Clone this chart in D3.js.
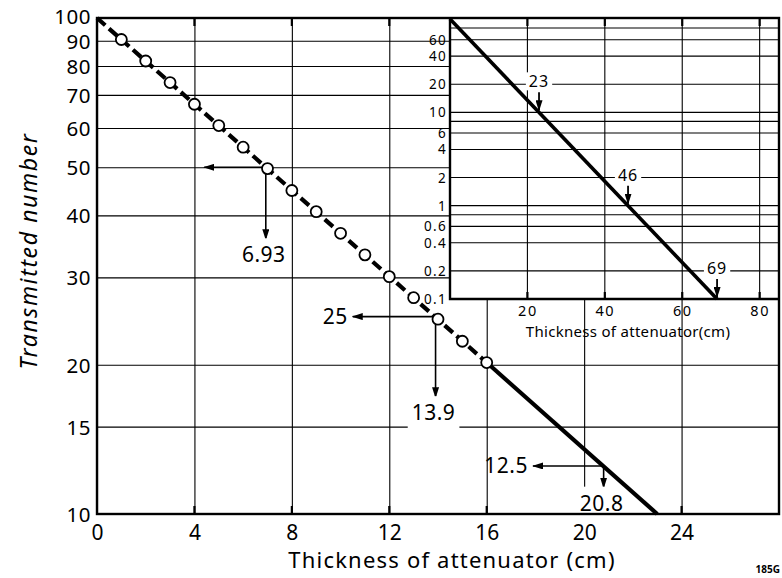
<!DOCTYPE html>
<html><head><meta charset="utf-8">
<script src="https://cdn.jsdelivr.net/npm/d3@7"></script>
<style>
body{margin:0;background:#fff}
text{font-family:"Noto Sans",sans-serif;fill:#000}
</style>
</head><body>
<svg id="c" width="782" height="578"></svg>
<script>
// ---- data ----
const measuredX = [1,2,3,4,5,6,7,8,9,10,11,12,13,14,15,16];
const measuredN = [90.5,81.9,74.1,67.0,60.7,54.9,49.7,44.9,40.7,36.8,33.3,30.1,27.3,24.7,22.3,20.2];
const fitDashedX = [0,16];
const fitDashedN = [100,20.2];
const fitSolidX = [16,23];
const fitSolidN = [20.2,10];
const mainXTicks = [0,4,8,12,16,20,24];
const mainYTicks = [10,15,20,30,40,50,60,70,80,90,100];
const halfThickness = [6.93,13.9,20.8];
const halfLevels = [50,25,12.5];
const halfLevelLabels = ["","25","12.5"];
const arrowLeftX = [4.4,10.5,17.9];
const arrowDownN = [35.8,17.2,11.3];
const insetLineX = [0,69];
const insetLineN = [100,0.1];
const insetXTicks = [20,40,60,80];
const insetYGrid = [80,60,40,20,10,8,6,4,2,1,0.8,0.6,0.4,0.2];
const insetYLabels = [60,40,20,10,6,4,2,1,0.6,0.4,0.2,0.1];
const insetMarks = [23,46,69];
const insetMarkN = [10,1,0.1];

// ---- layout ----
const svg = d3.select("#c");
const M = {l:97, r:779, t:18, b:514};
const x = d3.scaleLinear().domain([0,28]).range([M.l,M.r]);
const y = d3.scaleLog().domain([10,100]).range([M.b,M.t]);
const smallFont = "DejaVu Sans";

const defs = svg.append("defs");
defs.append("marker").attr("id","ah").attr("markerUnits","userSpaceOnUse")
  .attr("markerWidth",11).attr("markerHeight",7).attr("refX",10).attr("refY",3.5)
  .attr("orient","auto")
  .append("path").attr("d","M0,0 L11,3.5 L0,7 Z").attr("fill","#000");

// gridlines main
const g = svg.append("g");
g.append("g").attr("transform",`translate(${M.l},0)`)
  .call(d3.axisLeft(y).tickValues(mainYTicks).tickSize(-(M.r-M.l)).tickFormat(d3.format("d")).tickPadding(6))
  .call(s=>{s.select(".domain").remove();
    s.selectAll("line").attr("stroke","#000").attr("stroke-width",1.1);
    s.selectAll("text").attr("font-size",20.5).attr("font-family","Noto Sans").attr("letter-spacing",0.5)
      .attr("dy",d=>d===100?"0.26em":"0.36em").attr("x",-6);});
g.append("g").attr("transform",`translate(0,${M.b})`)
  .call(d3.axisBottom(x).tickValues(mainXTicks).tickSize(-(M.b-M.t)).tickFormat(d3.format("d")).tickPadding(8))
  .call(s=>{s.select(".domain").remove();
    s.selectAll("line").attr("stroke","#000").attr("stroke-width",1.1);
    s.selectAll("text").attr("font-size",21).attr("font-family","Noto Sans").attr("y",11);});
mainXTicks.slice(1).forEach(v=>{
  g.append("line").attr("x1",x(v)).attr("x2",x(v)).attr("y1",M.b).attr("y2",M.b-8).attr("stroke","#000").attr("stroke-width",2.2);
  g.append("line").attr("x1",x(v)).attr("x2",x(v)).attr("y1",M.t).attr("y2",M.t+8).attr("stroke","#000").attr("stroke-width",2.2);
});

// annotations main
const ann = svg.append("g");
halfThickness.forEach((t,i)=>{
  const px = x(t), py = y(halfLevels[i]);
  ann.append("line").attr("x1",px).attr("y1",py).attr("x2",x(arrowLeftX[i])).attr("y2",py)
    .attr("stroke","#000").attr("stroke-width",1.6).attr("marker-end","url(#ah)");
  ann.append("line").attr("x1",px).attr("y1",py).attr("x2",px).attr("y2",y(arrowDownN[i]))
    .attr("stroke","#000").attr("stroke-width",1.6).attr("marker-end","url(#ah)");
  const tb = ann.append("rect").attr("fill","#fff");
  const tx = ann.append("text").attr("x",px-2).attr("y",y(arrowDownN[i])+23)
    .attr("text-anchor","middle").attr("font-size",21).attr("letter-spacing",0.5).text(String(t));
  const bb = tx.node().getBBox();
  tb.attr("x",bb.x-4).attr("y",bb.y-2).attr("width",bb.width+8).attr("height",bb.height+4);
  if (halfLevelLabels[i]) {
    ann.append("text").attr("x",x(arrowLeftX[i])-5).attr("y",py+7.5)
      .attr("text-anchor","end").attr("font-size",21).attr("letter-spacing",0.5).text(halfLevelLabels[i]);
  }
});

// fit line
const line = d3.line().x(d=>x(d[0])).y(d=>y(d[1]));
svg.append("path").datum(fitDashedX.map((v,i)=>[v,fitDashedN[i]])).attr("d",line)
  .attr("fill","none").attr("stroke","#000").attr("stroke-width",4.2).attr("stroke-dasharray","11,5");
svg.append("path").datum(fitSolidX.map((v,i)=>[v,fitSolidN[i]])).attr("d",line)
  .attr("fill","none").attr("stroke","#000").attr("stroke-width",4.2);
svg.append("g").selectAll("circle").data(measuredX).join("circle")
  .attr("cx",d=>x(d)).attr("cy",(d,i)=>y(measuredN[i])).attr("r",5.5)
  .attr("fill","#fff").attr("stroke","#000").attr("stroke-width",1.8);

// ---- inset ----
const I = {l:450, r:779, t:19, b:299};
const xi = d3.scaleLinear().domain([0,85]).range([I.l,I.r]);
const yi = d3.scaleLog().domain([0.1,100]).range([I.b,I.t]);
const ig = svg.append("g");
ig.append("rect").attr("x",I.l).attr("y",I.t).attr("width",I.r-I.l).attr("height",I.b-I.t).attr("fill","#fff");
ig.selectAll(".hg").data(insetYGrid).join("line").attr("x1",I.l).attr("x2",I.r)
  .attr("y1",d=>yi(d)).attr("y2",d=>yi(d)).attr("stroke","#000").attr("stroke-width",1.1);
ig.selectAll(".vg").data(insetXTicks).join("line").attr("y1",I.t).attr("y2",I.b)
  .attr("x1",d=>xi(d)).attr("x2",d=>xi(d)).attr("stroke","#000").attr("stroke-width",1.1);
insetXTicks.forEach(v=>{
  ig.append("line").attr("x1",xi(v)).attr("x2",xi(v)).attr("y1",I.b).attr("y2",I.b-7).attr("stroke","#000").attr("stroke-width",2.2);
  ig.append("line").attr("x1",xi(v)).attr("x2",xi(v)).attr("y1",I.t).attr("y2",I.t+7).attr("stroke","#000").attr("stroke-width",2.2);
});
ig.append("g").attr("transform",`translate(0,${I.b})`)
  .call(d3.axisBottom(xi).tickValues(insetXTicks).tickSize(0).tickFormat(d3.format("d")).tickPadding(6))
  .call(s=>{s.select(".domain").remove();
    s.selectAll("text").attr("font-size",14.5).attr("font-family",smallFont).attr("letter-spacing",1.5).attr("y",7);});
ig.selectAll(".yl").data(insetYLabels).join("text").attr("x",I.l-3).attr("y",d=>yi(d)+5)
  .attr("text-anchor","end").attr("font-size",13.5).attr("font-family",smallFont).attr("letter-spacing",1.3)
  .text(d=>String(d));
ig.append("text").attr("x",628).attr("y",337).attr("text-anchor","middle")
  .attr("font-size",15).attr("font-family",smallFont).attr("letter-spacing",0.3).text("Thickness of attenuator(cm)");
ig.append("path").datum(insetLineX.map((v,i)=>[v,insetLineN[i]]))
  .attr("d",d3.line().x(d=>xi(d[0])).y(d=>yi(d[1])))
  .attr("fill","none").attr("stroke","#000").attr("stroke-width",3.6);
insetMarks.forEach((m,i)=>{
  const px = xi(m), py = yi(insetMarkN[i]);
  const r = ig.append("rect").attr("fill","#fff");
  const t = ig.append("text").attr("x",px).attr("y",py-25).attr("text-anchor","middle")
    .attr("font-size",16).attr("font-family",smallFont).attr("letter-spacing",1).text(String(m));
  const bb = t.node().getBBox();
  r.attr("x",bb.x-3).attr("y",bb.y+2).attr("width",bb.width+6).attr("height",bb.height-4);
  ig.append("line").attr("x1",px).attr("x2",px).attr("y1",py-20).attr("y2",py-2)
    .attr("stroke","#000").attr("stroke-width",1.8).attr("marker-end","url(#ah)");
});
ig.append("path").attr("d",`M${I.l},${I.t} V${I.b} H${I.r}`).attr("fill","none")
  .attr("stroke","#000").attr("stroke-width",2.4);

// main frame
svg.append("rect").attr("x",M.l).attr("y",M.t).attr("width",M.r-M.l).attr("height",M.b-M.t)
  .attr("fill","none").attr("stroke","#000").attr("stroke-width",2.4);

// titles
svg.append("text").attr("x",452).attr("y",568).attr("text-anchor","middle")
  .attr("font-size",22).attr("letter-spacing",1.2).text("Thickness of attenuator (cm)");
svg.append("text").attr("transform","translate(37,251) rotate(-90)").attr("text-anchor","middle")
  .attr("font-size",23).attr("font-style","italic").attr("letter-spacing",1.6).text("Transmitted number");
svg.append("text").attr("x",780).attr("y",573).attr("text-anchor","end")
  .attr("font-size",10).attr("font-weight",700).text("185G");
</script>
</body></html>
